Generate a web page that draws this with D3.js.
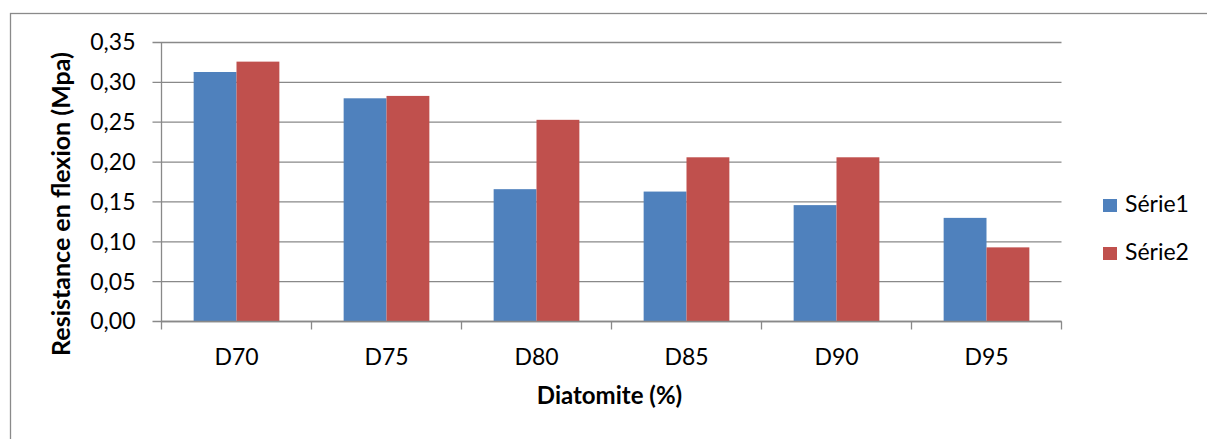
<!DOCTYPE html>
<html>
<head>
<meta charset="utf-8">
<script src="https://cdn.jsdelivr.net/npm/d3@7"></script>
<style>
  html, body { margin: 0; padding: 0; background: #fff; }
  svg { display: block; }
  text { font-family: Lato, "Open Sans", sans-serif; fill: #000; }
</style>
</head>
<body>
<svg id="chart" width="1207" height="439"></svg>
<script>
// Flexural strength by diatomite content, two test series
const categories = ["D70", "D75", "D80", "D85", "D90", "D95"];
const seriesNames = ["Série1", "Série2"];
const serie1 = [0.313, 0.280, 0.166, 0.163, 0.146, 0.130];
const serie2 = [0.326, 0.283, 0.253, 0.206, 0.206, 0.093];
const yTicks = [0, 0.05, 0.10, 0.15, 0.20, 0.25, 0.30, 0.35];
const colors = ["#4F81BD", "#C0504D"];

const svg = d3.select("#chart");
const gridColor = "#898989";

// chart frame
svg.append("rect")
  .attr("x", 10.5).attr("y", 13.5)
  .attr("width", 1400).attr("height", 600)
  .attr("fill", "none").attr("stroke", "#8a8a8a").attr("stroke-width", 1.3);

const plot = { left: 161.5, right: 1061.5, top: 42.5, bottom: 321.5 };

const y = d3.scaleLinear().domain([0, 0.35]).range([plot.bottom, plot.top]);
const x0 = d3.scaleBand().domain(categories).range([plot.left, plot.right]).padding(0);
// gap width of 150% between clusters
const x1 = d3.scaleBand().domain(seriesNames).range([0, x0.bandwidth()])
  .paddingInner(0).paddingOuter(0.75);

const fmt = v => d3.format(".2f")(v).replace(".", ",");

// horizontal gridlines + left tick marks
svg.append("g").selectAll("line").data(yTicks).join("line")
  .attr("x1", plot.left - 9).attr("x2", plot.right)
  .attr("y1", d => y(d)).attr("y2", d => y(d))
  .attr("stroke", gridColor).attr("stroke-width", 1.3);

// bars
const rows = categories.map((c, i) => ({ cat: c, values: [serie1[i], serie2[i]] }));
svg.append("g").selectAll("g").data(rows).join("g")
  .attr("transform", d => `translate(${x0(d.cat)},0)`)
  .selectAll("rect")
  .data(d => d.values.map((v, j) => ({ key: seriesNames[j], v, j })))
  .join("rect")
  .attr("x", d => x1(d.key))
  .attr("width", x1.bandwidth())
  .attr("y", d => y(d.v))
  .attr("height", d => y(0) - y(d.v))
  .attr("fill", d => colors[d.j]);

// y axis
const yAxis = d3.axisLeft(y).tickValues(yTicks).tickFormat(fmt).tickSize(0).tickPadding(26);
const gy = svg.append("g").attr("transform", `translate(${plot.left},0)`).call(yAxis);
gy.select(".domain").remove();
gy.selectAll("text").attr("font-size", 23).attr("font-family", "Lato, sans-serif").attr("fill", "#000");
svg.append("line")
  .attr("x1", plot.left).attr("x2", plot.left)
  .attr("y1", plot.top).attr("y2", plot.bottom)
  .attr("stroke", gridColor).attr("stroke-width", 1.3);

// x axis with boundary ticks
svg.append("line")
  .attr("x1", plot.left).attr("x2", plot.right)
  .attr("y1", plot.bottom).attr("y2", plot.bottom)
  .attr("stroke", gridColor).attr("stroke-width", 1.3);
const bounds = categories.map(c => x0(c)).concat([x0.range()[1]]);
svg.append("g").selectAll("line").data(bounds).join("line")
  .attr("x1", d => d).attr("x2", d => d)
  .attr("y1", plot.bottom).attr("y2", plot.bottom + 8)
  .attr("stroke", gridColor).attr("stroke-width", 1.3);
svg.append("g").selectAll("text").data(categories).join("text")
  .attr("x", d => x0(d) + x0.bandwidth() / 2)
  .attr("y", 364.5)
  .attr("text-anchor", "middle")
  .attr("font-size", 23)
  .text(d => d);

// axis titles
svg.append("text")
  .attr("x", (plot.left + plot.right) / 2 - 2).attr("y", 403.5)
  .attr("text-anchor", "middle")
  .attr("font-size", 24).attr("font-weight", "bold")
  .text("Diatomite (%)");
svg.append("text")
  .attr("transform", "translate(70,204) rotate(-90)")
  .attr("text-anchor", "middle")
  .attr("font-size", 25).attr("font-weight", "bold")
  .text("Resistance en flexion (Mpa)");

// legend
const legend = svg.append("g").selectAll("g").data(seriesNames).join("g")
  .attr("transform", (d, i) => `translate(1103,${199 + i * 48})`);
legend.append("rect").attr("width", 14).attr("height", 13).attr("fill", (d, i) => colors[i]);
legend.append("text").attr("x", 22).attr("y", 13).attr("font-size", 23).text(d => d);
</script>
</body>
</html>
